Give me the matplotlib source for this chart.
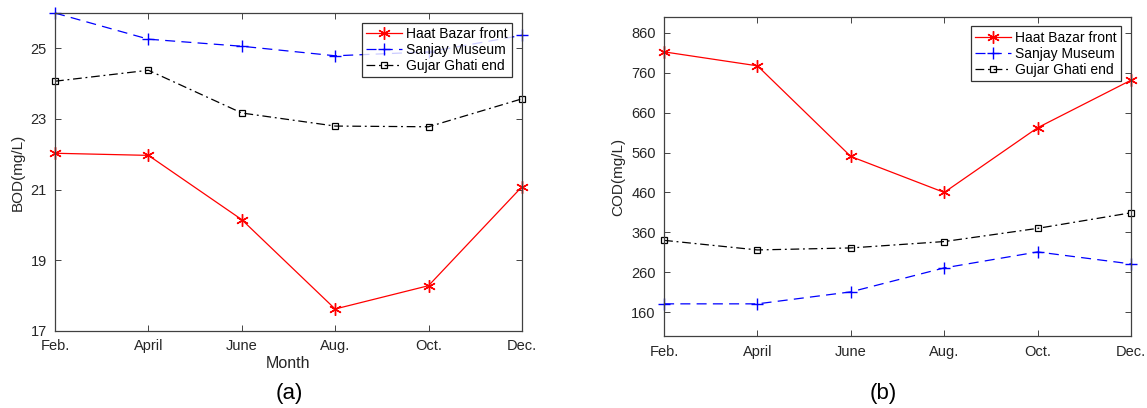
import matplotlib

matplotlib.use("Agg")
import matplotlib.pyplot as plt

plt.rcParams["font.family"] = ["Liberation Sans", "DejaVu Sans"]

months = ["Feb.", "April", "June", "Aug.", "Oct.", "Dec."]
series_names = ["Haat Bazar front", "Sanjay Museum", "Gujar Ghati end"]

# BOD (mg/L)
bod_haat = [22.03, 21.97, 20.15, 17.62, 18.28, 21.08]
bod_sanjay = [26.0, 25.26, 25.06, 24.79, 24.9, 25.37]
bod_gujar = [24.07, 24.38, 23.17, 22.80, 22.78, 23.57]

# COD (mg/L)
cod_haat = [812, 777, 550, 460, 622, 741]
cod_sanjay = [181, 181, 211, 271, 311, 281]
cod_gujar = [340, 316, 321, 337, 370, 409]

bod_ticks = [17, 19, 21, 23, 25]
cod_ticks = [160, 260, 360, 460, 560, 660, 760, 860]

styles = [
    dict(color="red", linestyle="-", marker=(6, 2, 0), markersize=9, linewidth=0.9,
         markeredgewidth=1.0),
    dict(color="blue", linestyle=(0, (8, 5)), marker="+", markersize=9, linewidth=0.9,
         markeredgewidth=1.0),
    dict(color="black", linestyle=(0, (7, 3, 1.5, 3)), marker="s", markersize=5,
         markerfacecolor="none", linewidth=0.9, markeredgewidth=0.9),
]

fig = plt.figure(figsize=(11.47, 4.08), dpi=100)
ax1 = fig.add_axes([0.048, 0.189, 0.407, 0.779])
ax2 = fig.add_axes([0.579, 0.176, 0.407, 0.783])

x = list(range(len(months)))
gray = "#262626"


def style_axes(ax, ticks, ylim, ylabel):
    ax.set_xlim(0, len(months) - 1)
    ax.set_ylim(*ylim)
    ax.set_xticks(x)
    ax.set_xticklabels(months)
    ax.set_yticks(ticks)
    ax.set_ylabel(ylabel, fontsize=11, color=gray, labelpad=4)
    ax.tick_params(direction="in", top=True, right=True, length=4, width=0.6,
                   labelsize=10.5, colors=gray, pad=6)
    for sp in ax.spines.values():
        sp.set_color("#404040")
        sp.set_linewidth(0.9)
    leg = ax.legend(loc="upper right", fontsize=10, frameon=True, fancybox=False,
                    edgecolor="black", handlelength=2.6, borderpad=0.3,
                    labelspacing=0.15, handletextpad=0.3, borderaxespad=0.7)
    leg.get_frame().set_linewidth(0.9)


for data, st, name in zip([bod_haat, bod_sanjay, bod_gujar], styles, series_names):
    ax1.plot(x, data, label=name, clip_on=False, **st)
for data, st, name in zip([cod_haat, cod_sanjay, cod_gujar], styles, series_names):
    ax2.plot(x, data, label=name, clip_on=False, **st)

style_axes(ax1, bod_ticks, (17, 26), "BOD(mg/L)")
style_axes(ax2, cod_ticks, (100, 900), "COD(mg/L)")
ax1.set_xlabel("Month", fontsize=11.5, color=gray, labelpad=2)

fig.text(0.252, 0.01, "(a)", fontsize=16, ha="center", va="bottom")
fig.text(0.77, 0.01, "(b)", fontsize=16, ha="center", va="bottom")

fig.savefig("out.png", dpi=100)
